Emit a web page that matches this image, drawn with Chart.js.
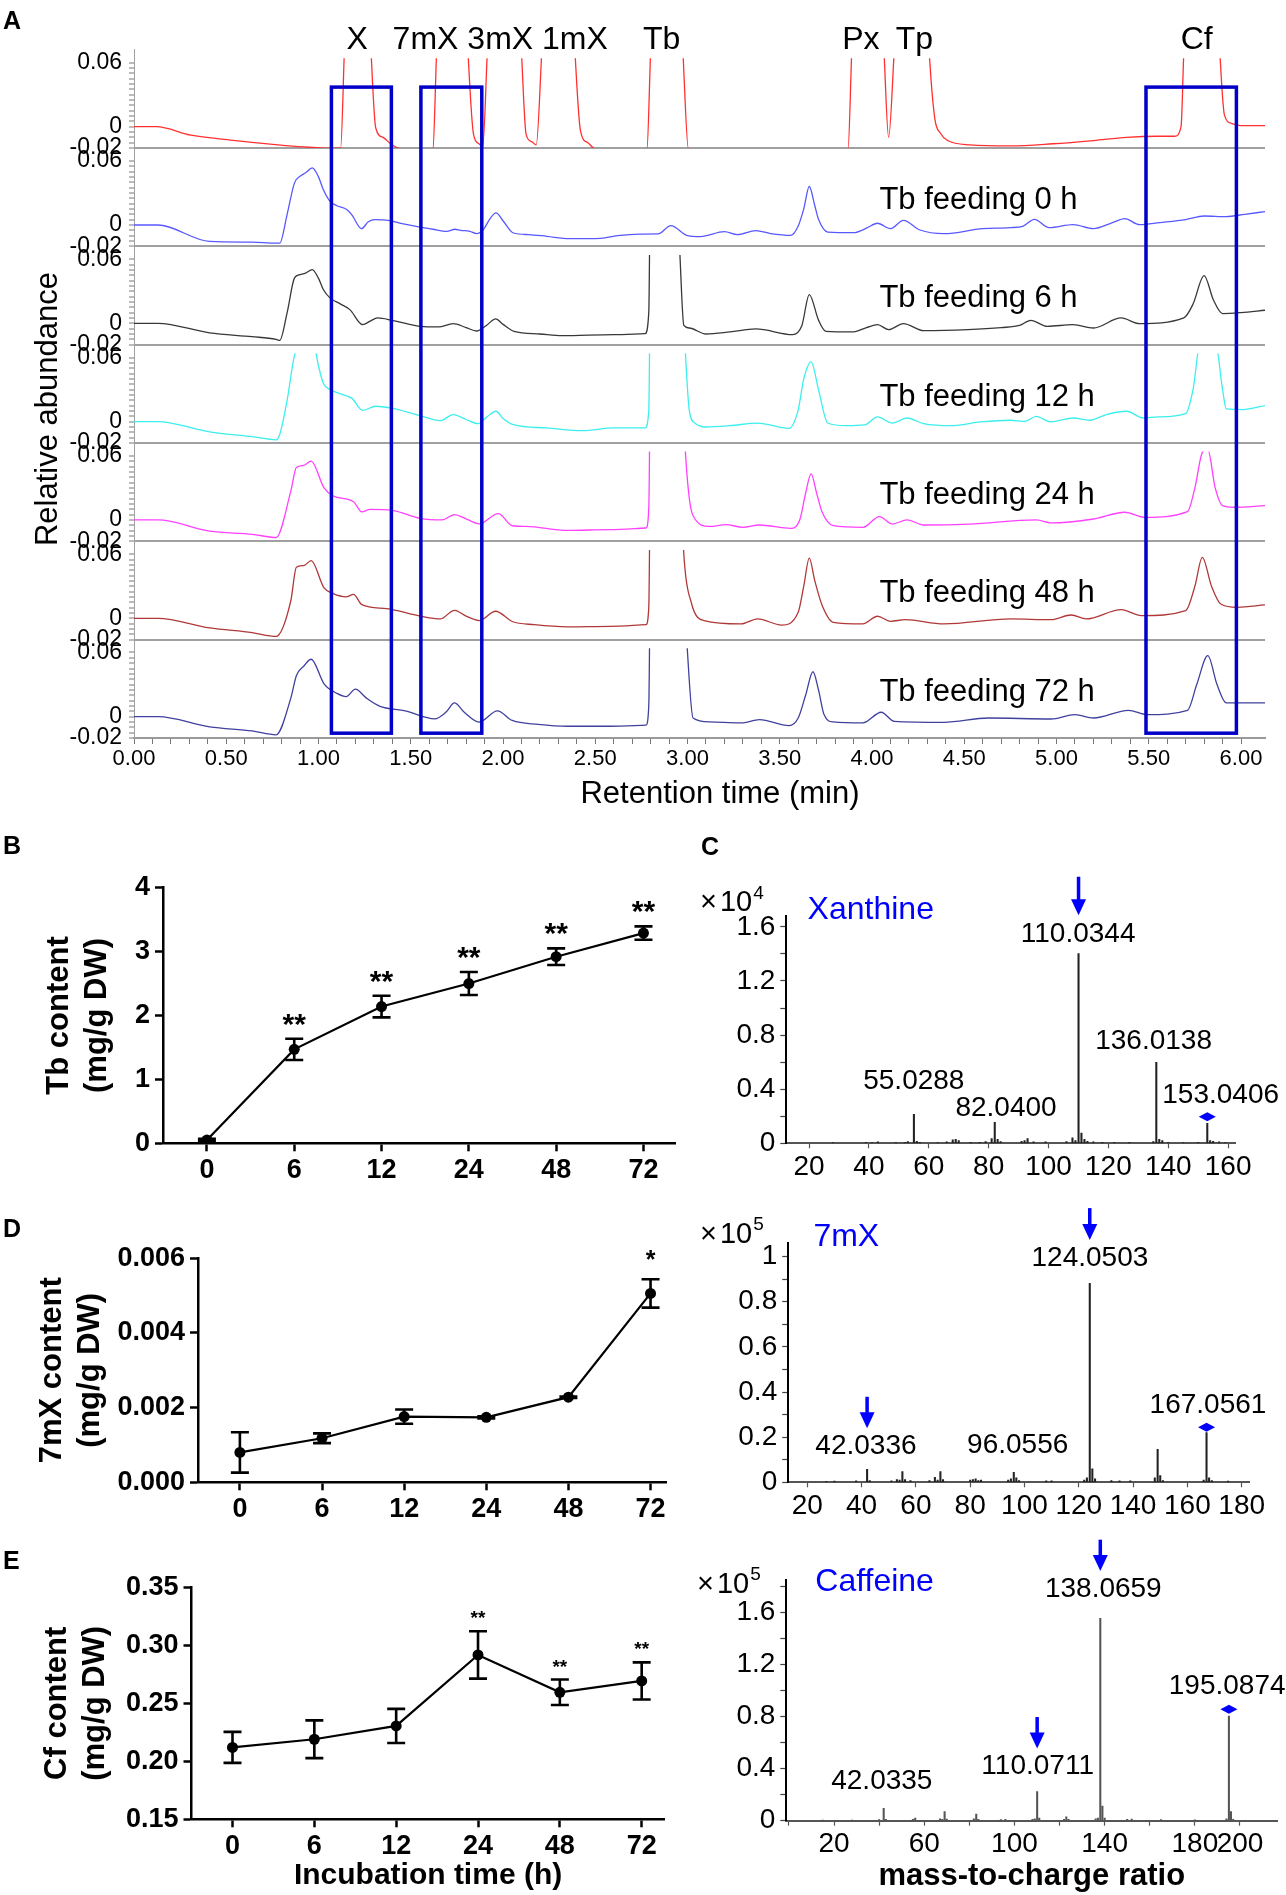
<!DOCTYPE html>
<html>
<head>
<meta charset="utf-8">
<script src="https://cdn.jsdelivr.net/npm/chart.js@4.4.1/dist/chart.umd.min.js"></script>
<style>
  body { margin: 0; background: #fff; }
  #fig { position: relative; width: 1286px; height: 1895px; background: #fff; }
  #fig canvas { position: absolute; }
</style>
</head>
<body>
<div id="fig">
  <canvas id="chromChart"></canvas>
  <canvas id="tbChart"></canvas>
  <canvas id="xanChart"></canvas>
  <canvas id="mxChart"></canvas>
  <canvas id="mxMsChart"></canvas>
  <canvas id="cfChart"></canvas>
  <canvas id="cfMsChart"></canvas>
</div>
<script>
// ---------- Panel A: chromatograms (retention time in min, relative abundance) ----------
const stdTime = [0.00, 0.12, 0.31, 0.55, 0.78, 0.92, 1.03, 1.12, 1.14, 1.21, 1.285, 1.31, 1.35, 1.39, 1.43, 1.52, 1.62, 1.64, 1.72, 1.81,
  1.84, 1.87, 1.89, 1.915, 2.01, 2.10, 2.125, 2.155, 2.18, 2.21, 2.30, 2.39, 2.42, 2.46, 2.50, 2.64, 2.78, 2.80, 2.88, 2.975,
  3.005, 3.45, 3.87, 3.89, 3.97, 4.065, 4.09, 4.12, 4.22, 4.31, 4.34, 4.37, 4.41, 4.53, 4.75, 4.98, 5.20, 5.38, 5.55, 5.64,
  5.675, 5.69, 5.79, 5.885, 5.91, 5.95, 6.00, 6.13];
const stdAbund = [0.000, 0.000, -0.008, -0.013, -0.017, -0.019, -0.020, -0.020, 0.070, 0.400, 0.070, -0.001, -0.010, -0.016, -0.020, -0.023, -0.021, 0.070, 0.400, 0.070,
  -0.007, -0.016, -0.019, 0.070, 0.400, 0.070, -0.007, -0.014, -0.017, 0.070, 0.400, 0.070, -0.004, -0.015, -0.021, -0.023, -0.021, 0.070, 0.400, 0.070,
  -0.021, -0.023, -0.021, 0.070, 0.400, 0.070, -0.010, 0.070, 0.400, 0.070, 0.008, -0.006, -0.013, -0.017, -0.018, -0.016, -0.013, -0.010, -0.009, -0.009,
  0.000, 0.070, 0.400, 0.070, 0.011, 0.003, 0.001, 0.001];

const h0Time = [0.00, 0.13, 0.41, 0.64, 0.77, 0.79, 0.83, 0.87, 0.90, 0.93, 0.966, 1.00, 1.026, 1.062, 1.10, 1.153, 1.18, 1.233, 1.27, 1.305,
  1.378, 1.46, 1.55, 1.62, 1.695, 1.74, 1.77, 1.82, 1.857, 1.893, 1.93, 1.962, 2.00, 2.056, 2.14, 2.237, 2.36, 2.53, 2.62, 2.74,
  2.84, 2.91, 3.00, 3.07, 3.20, 3.27, 3.37, 3.45, 3.56, 3.60, 3.63, 3.66, 3.69, 3.71, 3.76, 3.90, 3.97, 4.03, 4.10, 4.17,
  4.26, 4.39, 4.60, 4.75, 4.82, 4.88, 4.96, 5.09, 5.20, 5.30, 5.37, 5.45, 5.56, 5.70, 5.80, 5.92, 6.02, 6.13];
const h0Abund = [0.000, 0.000, -0.0154, -0.016, -0.017, -0.0169, 0.010, 0.0394, 0.0456, 0.0488, 0.0534, 0.045, 0.0331, 0.0222, 0.018, 0.0144, 0.0097, -0.0034, 0.003, 0.005,
  0.0044, 0.001, -0.0019, -0.004, -0.0059, -0.004, -0.005, -0.006, -0.0081, -0.0044, 0.006, 0.0113, 0.004, -0.0075, -0.009, -0.0106, -0.0128, -0.0125, -0.010, -0.0085,
  -0.0084, -0.0006, -0.010, -0.0109, -0.0063, -0.0091, -0.0053, -0.008, -0.0097, -0.001, 0.015, 0.036, 0.018, 0.0053, -0.0066, -0.0072, -0.003, 0.0016, -0.0034, 0.0044,
  -0.0047, -0.0081, -0.0034, -0.0025, -0.001, 0.0053, -0.0025, 0.0003, -0.0034, 0.002, 0.006, 0.0003, 0.0022, 0.005, 0.0084, 0.0078, 0.010, 0.0125];

const h6Time = [0.00, 0.13, 0.41, 0.64, 0.77, 0.79, 0.83, 0.87, 0.90, 0.93, 0.966, 1.00, 1.026, 1.062, 1.12, 1.17, 1.24, 1.28, 1.32, 1.40,
  1.55, 1.65, 1.73, 1.80, 1.857, 1.91, 1.96, 2.00, 2.06, 2.20, 2.32, 2.60, 2.77, 2.79, 2.81, 2.88, 2.96, 2.98, 3.01, 3.10,
  3.23, 3.37, 3.57, 3.62, 3.66, 3.71, 3.75, 3.90, 3.97, 4.03, 4.09, 4.17, 4.28, 4.52, 4.70, 4.80, 4.86, 4.95, 5.09, 5.20,
  5.35, 5.45, 5.69, 5.74, 5.80, 5.85, 5.90, 6.00, 6.13];
const h6Abund = [0.000, 0.000, -0.009, -0.0125, -0.015, -0.016, 0.010, 0.0425, 0.0456, 0.047, 0.0503, 0.042, 0.0316, 0.0238, 0.018, 0.0128, -0.0013, 0.002, 0.005, 0.0028,
  -0.0028, -0.0034, -0.0003, -0.004, -0.0072, -0.002, 0.0041, -0.001, -0.0075, -0.010, -0.0116, -0.0106, -0.0097, 0.010, 0.400, 0.400, 0.060, -0.002, -0.0044, -0.010,
  -0.0081, -0.0053, -0.0106, -0.002, 0.0269, 0.003, -0.0075, -0.008, -0.004, -0.0013, -0.0059, -0.0003, -0.0069, -0.0059, -0.004, -0.002, 0.0028, -0.0028, -0.0013, -0.0044,
  0.005, -0.0003, 0.005, 0.018, 0.0447, 0.022, 0.0091, 0.010, 0.0122];

const h12Time = [0.00, 0.13, 0.41, 0.64, 0.77, 0.79, 0.83, 0.87, 0.92, 0.97, 1.00, 1.026, 1.062, 1.12, 1.18, 1.24, 1.31, 1.39, 1.55, 1.66,
  1.73, 1.80, 1.866, 1.91, 1.962, 2.00, 2.056, 2.237, 2.43, 2.60, 2.77, 2.79, 2.81, 2.90, 2.99, 3.01, 3.04, 3.10, 3.23, 3.38,
  3.55, 3.60, 3.63, 3.67, 3.71, 3.76, 3.86, 3.96, 4.03, 4.11, 4.19, 4.28, 4.43, 4.59, 4.75, 4.83, 4.89, 4.97, 5.09, 5.18,
  5.27, 5.38, 5.47, 5.55, 5.70, 5.74, 5.78, 5.86, 5.90, 5.92, 6.01, 6.13];
const h12Abund = [0.000, 0.000, -0.0096, -0.014, -0.017, -0.012, 0.020, 0.062, 0.075, 0.075, 0.052, 0.036, 0.030, 0.026, 0.022, 0.0106, 0.0144, 0.0128, 0.0056, 0.0009,
  0.0066, 0.002, -0.0019, 0.004, 0.0097, 0.003, -0.0028, -0.0059, -0.0084, -0.0059, -0.0059, 0.010, 0.400, 0.400, 0.060, 0.010, -0.0013, -0.005, -0.0038, -0.0013,
  -0.0063, 0.011, 0.040, 0.056, 0.030, -0.0013, -0.0038, -0.0031, 0.0044, -0.0013, 0.0034, -0.0019, -0.0038, -0.0003, 0.0013, 0.0003, 0.005, -0.0003, 0.0034, 0.0013,
  0.0066, 0.0097, 0.0034, 0.0044, 0.0075, 0.030, 0.075, 0.075, 0.030, 0.0119, 0.0113, 0.015];

const h24Time = [0.00, 0.13, 0.41, 0.64, 0.77, 0.85, 0.88, 0.92, 0.96, 1.03, 1.08, 1.19, 1.235, 1.28, 1.40, 1.55, 1.67, 1.737, 1.80, 1.87,
  1.975, 2.05, 2.125, 2.35, 2.58, 2.775, 2.79, 2.81, 2.90, 2.99, 3.01, 3.03, 3.12, 3.21, 3.30, 3.39, 3.56, 3.61, 3.64, 3.67,
  3.70, 3.73, 3.79, 3.95, 4.04, 4.11, 4.19, 4.28, 4.53, 4.89, 4.97, 5.20, 5.37, 5.48, 5.71, 5.75, 5.79, 5.82, 5.86, 5.90,
  5.96, 6.13];
const h24Abund = [0.000, 0.000, -0.0104, -0.0134, -0.0164, 0.027, 0.049, 0.051, 0.055, 0.030, 0.0224, 0.017, 0.0075, 0.010, 0.009, 0.0015, 0.000, 0.005, 0.001, -0.0036,
  0.006, -0.0054, -0.006, -0.0098, -0.009, -0.0075, 0.010, 0.400, 0.400, 0.060, 0.020, 0.004, -0.006, -0.0044, -0.0069, -0.0047, -0.0078, 0.0009, 0.025, 0.0431,
  0.025, 0.0072, -0.0053, -0.0069, 0.0031, -0.0038, 0.000, -0.0047, -0.0038, 0.000, -0.0028, 0.0009, 0.0072, 0.0025, 0.0078, 0.030, 0.063, 0.066, 0.030, 0.0134,
  0.0119, 0.0134];

const h48Time = [0.00, 0.13, 0.41, 0.64, 0.77, 0.85, 0.88, 0.92, 0.96, 1.03, 1.08, 1.15, 1.19, 1.235, 1.37, 1.55, 1.66, 1.737, 1.80, 1.87,
  1.96, 2.05, 2.17, 2.35, 2.58, 2.775, 2.79, 2.81, 2.90, 2.98, 3.02, 3.09, 3.29, 3.38, 3.51, 3.60, 3.63, 3.66, 3.69, 3.73,
  3.79, 3.95, 4.03, 4.10, 4.18, 4.39, 4.75, 4.97, 5.08, 5.16, 5.35, 5.46, 5.70, 5.75, 5.79, 5.84, 5.89, 5.98, 6.13];
const h48Abund = [0.000, 0.000, -0.009, -0.0134, -0.017, 0.0164, 0.0478, 0.0493, 0.054, 0.0284, 0.023, 0.020, 0.0224, 0.0128, 0.009, 0.0021, -0.0006, 0.0075, 0.002, -0.0021,
  0.0066, -0.003, -0.006, -0.008, -0.0075, -0.006, 0.010, 0.400, 0.400, 0.060, 0.015, -0.0022, -0.0053, -0.0006, -0.0063, 0.0056, 0.030, 0.0563, 0.035, 0.0119,
  -0.0038, -0.0053, 0.0019, -0.0028, -0.0013, -0.0053, -0.0006, -0.0013, 0.0031, -0.0006, 0.0081, 0.0025, 0.0072, 0.030, 0.057, 0.030, 0.0134, 0.0103, 0.0125];

const h72Time = [0.00, 0.13, 0.41, 0.64, 0.77, 0.85, 0.88, 0.92, 0.96, 1.03, 1.10, 1.15, 1.20, 1.26, 1.33, 1.47, 1.63, 1.69, 1.737, 1.79,
  1.87, 1.97, 2.05, 2.19, 2.35, 2.58, 2.775, 2.79, 2.81, 2.90, 3.00, 3.03, 3.12, 3.29, 3.39, 3.55, 3.60, 3.64, 3.68, 3.71,
  3.74, 3.79, 3.95, 4.05, 4.12, 4.39, 4.63, 4.97, 5.10, 5.20, 5.39, 5.49, 5.71, 5.76, 5.82, 5.87, 5.92, 6.13];
const h72Abund = [0.000, 0.000, -0.0096, -0.0134, -0.017, 0.0173, 0.0382, 0.0472, 0.0537, 0.0307, 0.0218, 0.0188, 0.0257, 0.0173, 0.0099, 0.0054, -0.0021, 0.004, 0.0128, 0.004,
  -0.0051, 0.0054, -0.0036, -0.0072, -0.009, -0.009, -0.008, 0.010, 0.400, 0.400, 0.060, -0.0013, -0.005, -0.0059, -0.0028, -0.0084, -0.0013, 0.020, 0.042, 0.025,
  0.0019, -0.005, -0.0059, 0.0041, -0.0044, -0.0053, -0.0013, -0.0022, 0.0019, -0.0013, 0.0059, 0.0019, 0.0059, 0.030, 0.057, 0.030, 0.0128, 0.0128];

const traceTimes = [stdTime, h0Time, h6Time, h12Time, h24Time, h48Time, h72Time];
const traceAbund = [stdAbund, h0Abund, h6Abund, h12Abund, h24Abund, h48Abund, h72Abund];
const traceColors = ['#ff3030', '#5858ff', '#383838', '#3ceeee', '#ff40ff', '#b03838', '#40409e'];
const feedLabels = ['Tb feeding 0 h', 'Tb feeding 6 h', 'Tb feeding 12 h', 'Tb feeding 24 h', 'Tb feeding 48 h', 'Tb feeding 72 h'];
const compoundNames = ['X', '7mX', '3mX', '1mX', 'Tb', 'Px', 'Tp', 'Cf'];
const compoundTimes = [1.21, 1.58, 1.985, 2.39, 2.86, 3.94, 4.23, 5.76];
const rtLabels = ['0.00', '0.50', '1.00', '1.50', '2.00', '2.50', '3.00', '3.50', '4.00', '4.50', '5.00', '5.50', '6.00'];
const abundLabelValues = [-0.02, 0, 0.06];
const boxSpans = [[1.07, 1.395], [1.555, 1.885], [5.485, 5.975]];

// ---------- Panels B, D, E: contents over incubation time ----------
const hours = ['0', '6', '12', '24', '48', '72'];
const tbMean = [0.05, 1.47, 2.14, 2.50, 2.92, 3.29];
const tbSd = [0.02, 0.167, 0.17, 0.18, 0.13, 0.105];
const tbSig = ['', '**', '**', '**', '**', '**'];
const tbYTicks = [0, 1, 2, 3, 4];
const tbYLabels = ['0', '1', '2', '3', '4'];

const mxMean = [0.00080, 0.00118, 0.00176, 0.00174, 0.00228, 0.00506];
const mxSd = [0.00054, 0.00013, 0.00019, 0.00003, 0.00002, 0.00038];
const mxSig = ['', '', '', '', '', '*'];
const mxYTicks = [0, 0.002, 0.004, 0.006];
const mxYLabels = ['0.000', '0.002', '0.004', '0.006'];

const cfMean = [0.212, 0.219, 0.2305, 0.2917, 0.2595, 0.2693];
const cfSd = [0.0134, 0.0163, 0.0147, 0.0204, 0.011, 0.016];
const cfSig = ['', '', '', '**', '**', '**'];
const cfYTicks = [0.15, 0.20, 0.25, 0.30, 0.35];
const cfYLabels = ['0.15', '0.20', '0.25', '0.30', '0.35'];

// ---------- Mass spectra (m/z, intensity) ----------
const xanMz = [28, 39, 41, 43, 49, 52, 53, 55.03, 56, 57, 63, 66, 68, 69, 70, 74, 77, 79, 81, 82.04, 83, 84, 91, 92, 93, 95, 99, 106, 108, 109,
  110.03, 111, 112, 113, 115, 118, 122, 127, 135, 136.01, 137, 138, 140, 145, 150, 153.04, 154, 155, 157, 159];
const xanInt = [0.005, 0.008, 0.006, 0.01, 0.006, 0.008, 0.012, 0.215, 0.015, 0.008, 0.006, 0.01, 0.025, 0.03, 0.02, 0.008, 0.008, 0.012, 0.035, 0.155, 0.03, 0.012, 0.015, 0.02, 0.035, 0.01, 0.01, 0.012, 0.04, 0.02,
  1.403, 0.075, 0.03, 0.015, 0.01, 0.008, 0.008, 0.008, 0.012, 0.598, 0.03, 0.02, 0.008, 0.006, 0.008, 0.148, 0.02, 0.015, 0.01, 0.006];
const xanXTicks = [20, 40, 60, 80, 100, 120, 140, 160];
const xanYTicks = [0, 0.2, 0.4, 0.6, 0.8, 1.0, 1.2, 1.4, 1.6];
const xanYLabels = ['0', '', '0.4', '', '0.8', '', '1.2', '', '1.6'];
const xanPeakLabels = [['110.0344', 109.9, 1.546], ['55.0288', 55.0, 0.462], ['82.0400', 85.8, 0.258], ['136.0138', 135.1, 0.755], ['153.0406', 157.5, 0.357]];

const mxMz = [27, 30, 38, 42.03, 43, 51, 53, 54, 55.03, 56, 58, 65, 67, 68, 69.03, 70, 80, 81, 82, 83, 84, 94, 95, 96.06, 97, 98, 108, 110, 122, 123,
  124.05, 125, 126, 132, 135, 139, 148, 149.05, 150, 151, 166, 167.06, 168, 169, 175];
const mxInt = [0.004, 0.005, 0.006, 0.058, 0.008, 0.006, 0.012, 0.01, 0.047, 0.012, 0.008, 0.008, 0.022, 0.01, 0.047, 0.012, 0.01, 0.012, 0.015, 0.008, 0.01, 0.01, 0.015, 0.044, 0.02, 0.008, 0.006, 0.006, 0.01, 0.02,
  0.882, 0.06, 0.015, 0.008, 0.006, 0.006, 0.02, 0.146, 0.03, 0.008, 0.01, 0.22, 0.02, 0.008, 0.005];
const mxXTicks = [20, 40, 60, 80, 100, 120, 140, 160, 180];
const mxMsYTicks = [0, 0.1, 0.2, 0.3, 0.4, 0.5, 0.6, 0.7, 0.8, 0.9, 1.0];
const mxMsYLabels = ['0', '', '0.2', '', '0.4', '', '0.6', '', '0.8', '', '1'];
const mxPeakLabels = [['124.0503', 124.1, 0.993], ['42.0336', 41.6, 0.158], ['96.0556', 97.5, 0.165], ['167.0561', 167.6, 0.343]];

const cfMz = [15, 28, 40, 42.03, 43, 55, 56, 67, 68, 69.04, 70, 82, 83.06, 84, 94, 96, 108, 109, 110.07, 111, 122, 123, 124, 136, 137, 138.07, 139, 140, 150, 152,
  165, 180, 194, 195.09, 196, 197];
const cfInt = [0.005, 0.005, 0.008, 0.095, 0.01, 0.01, 0.02, 0.015, 0.01, 0.07, 0.012, 0.015, 0.05, 0.01, 0.008, 0.01, 0.01, 0.015, 0.223, 0.02, 0.01, 0.03, 0.01, 0.015, 0.02, 1.556, 0.113, 0.02, 0.01, 0.012,
  0.008, 0.006, 0.015, 0.805, 0.07, 0.01];
const cfXTicks = [0, 20, 40, 60, 80, 100, 120, 140, 160, 180, 200];
const cfXLabels = ['', '20', '', '60', '', '100', '', '140', '', '180', '200'];
const cfMsYTicks = [0, 0.2, 0.4, 0.6, 0.8, 1.0, 1.2, 1.4, 1.6, 1.8];
const cfMsYLabels = ['0', '', '0.4', '', '0.8', '', '1.2', '', '1.6', ''];
const cfPeakLabels = [['138.0659', 139.4, 1.78], ['110.0711', 110.3, 0.42], ['42.0335', 41.2, 0.30], ['195.0874', 194.3, 1.03]];

// ---------- common setup ----------
const FONT = '"Liberation Sans", Arial, Helvetica, sans-serif';
Chart.defaults.font.family = FONT;
Chart.defaults.color = '#000';
Chart.defaults.animation = false;
Chart.defaults.plugins.legend.display = false;
Chart.defaults.plugins.tooltip.enabled = false;

function place(id, box) {
  const c = document.getElementById(id);
  c.width = box.w; c.height = box.h;
  c.style.left = box.x + 'px'; c.style.top = box.y + 'px';
  c.style.width = box.w + 'px'; c.style.height = box.h + 'px';
  return c;
}

// padding and axis sizes so the plot area lands on the given page rectangle
function frame(box, plot) {
  return {
    padding: { left: 0, top: plot.t - box.y, right: box.x + box.w - plot.r, bottom: 0 },
    yW: plot.l - box.x,
    xH: box.y + box.h - plot.b
  };
}

function letter(ctx, box, txt, px, py) {
  ctx.save();
  ctx.font = 'bold 25px ' + FONT;
  ctx.textBaseline = 'middle';
  ctx.textAlign = 'left';
  ctx.fillStyle = '#000';
  ctx.fillText(txt, px - box.x, py - box.y);
  ctx.restore();
}

// ---------- Panel A ----------
const chromBox = { x: 0, y: 0, w: 1286, h: 825 };
const chromPlot = { l: 134, t: 49.7, r: 1265, b: 738 };
const fa = frame(chromBox, chromPlot);

const panelClip = {
  id: 'panelClip',
  beforeDatasetDraw(chart, args) {
    const ys = args.meta.yScale, ca = chart.chartArea, ctx = chart.ctx;
    const top = ys.getPixelForValue(0.064);
    ctx.save();
    ctx.beginPath();
    ctx.rect(ca.left, top, ca.right - ca.left, ys.bottom - top);
    ctx.clip();
  },
  afterDatasetDraw(chart) { chart.ctx.restore(); }
};

const chromDecor = {
  id: 'chromDecor',
  afterDatasetsDraw(chart) {
    const { ctx, scales } = chart;
    const x = scales.x;
    const top = scales.y0.getPixelForValue(0.037);
    const bot = scales['y' + (traceTimes.length - 1)].getPixelForValue(-0.0155);
    ctx.save();
    ctx.strokeStyle = '#0000c8';
    ctx.lineWidth = 3.5;
    boxSpans.forEach(([a, b]) => {
      const xa = x.getPixelForValue(a), xb = x.getPixelForValue(b);
      ctx.strokeRect(xa, top, xb - xa, bot - top);
    });
    ctx.restore();
  },
  afterDraw(chart) {
    const { ctx, scales } = chart;
    const x = scales.x;
    ctx.save();
    ctx.fillStyle = '#000';
    ctx.font = '32px ' + FONT;
    ctx.textAlign = 'center';
    ctx.textBaseline = 'middle';
    compoundNames.forEach((n, i) => ctx.fillText(n, x.getPixelForValue(compoundTimes[i]), 40));
    ctx.font = '31px ' + FONT;
    ctx.textAlign = 'left';
    feedLabels.forEach((t, i) => ctx.fillText(t, x.getPixelForValue(4.04), scales['y' + (i + 1)].getPixelForValue(0.023)));
    ctx.textAlign = 'center';
    ctx.fillText('Retention time (min)', 720, 794);
    ctx.translate(48, 409);
    ctx.rotate(-Math.PI / 2);
    ctx.fillText('Relative abundance', 0, 0);
    ctx.restore();
    letter(ctx, chromBox, 'A', 3, 22);
  }
};

const chromScales = {
  x: {
    type: 'linear', min: 0, max: 6.13,
    afterFit: s => { s.height = fa.xH; },
    afterBuildTicks: s => {
      const t = [];
      for (let k = 0; k <= 60; k++) t.push({ value: k / 10 });
      s.ticks = t;
    },
    ticks: {
      autoSkip: false, maxRotation: 0, padding: 2, font: { size: 22 },
      callback: v => {
        const k = Math.round(v / 0.5);
        return Math.abs(v - k * 0.5) < 1e-6 ? rtLabels[k] : '';
      }
    },
    grid: { drawOnChartArea: false, tickLength: 6, tickColor: '#777', tickWidth: 1 },
    border: { color: '#9a9a9a', width: 2 }
  }
};
traceTimes.forEach((_, i) => {
  chromScales['y' + i] = {
    type: 'linear', position: 'left', stack: 'chrom', stackWeight: 1, weight: traceTimes.length - i,
    min: -0.02, max: 0.072,
    afterFit: s => { s.width = fa.yW; },
    afterBuildTicks: s => {
      const t = [];
      for (let k = 0; k <= 16; k++) t.push({ value: Math.round((-0.02 + k * 0.005) * 1000) / 1000 });
      s.ticks = t;
    },
    ticks: {
      autoSkip: false, padding: 7, font: { size: 23 },
      callback: v => abundLabelValues.some(u => Math.abs(u - v) < 1e-9) ? (Math.abs(v) < 1e-9 ? '0' : String(+v.toFixed(2))) : ''
    },
    grid: {
      drawOnChartArea: true, lineWidth: 2, tickLength: 5, tickColor: '#777', tickWidth: 1,
      color: c => (c.tick && Math.abs(c.tick.value + 0.02) < 1e-9) ? '#a0a0a0' : 'rgba(0,0,0,0)'
    },
    border: { color: '#a0a0a0', width: 1 }
  };
});

new Chart(place('chromChart', chromBox), {
  type: 'line',
  data: {
    datasets: traceTimes.map((ts, i) => ({
      data: ts.map((t, k) => ({ x: t, y: traceAbund[i][k] })),
      yAxisID: 'y' + i,
      borderColor: traceColors[i],
      borderWidth: 1.3,
      pointRadius: 0,
      cubicInterpolationMode: 'monotone'
    }))
  },
  options: {
    responsive: false,
    layout: { padding: fa.padding, autoPadding: false },
    scales: chromScales
  },
  plugins: [panelClip, chromDecor]
});

// ---------- Panels B, D, E ----------
function timeCourse(id, box, plot, d) {
  const f = frame(box, plot);
  const bars = {
    id: 'errorBars',
    afterDatasetsDraw(chart) {
      const { ctx, scales: { x, y } } = chart;
      ctx.save();
      ctx.strokeStyle = '#000';
      ctx.fillStyle = '#000';
      ctx.lineWidth = 2.6;
      d.mean.forEach((m, i) => {
        const px = x.getPixelForValue(i);
        const hi = y.getPixelForValue(m + d.sd[i]), lo = y.getPixelForValue(m - d.sd[i]);
        ctx.beginPath();
        ctx.moveTo(px, hi); ctx.lineTo(px, lo);
        ctx.moveTo(px - 9, hi); ctx.lineTo(px + 9, hi);
        ctx.moveTo(px - 9, lo); ctx.lineTo(px + 9, lo);
        ctx.stroke();
        if (d.sig[i]) {
          ctx.font = 'bold ' + d.sigSize + 'px ' + FONT;
          ctx.textAlign = 'center';
          ctx.textBaseline = 'alphabetic';
          ctx.fillText(d.sig[i], px, hi - d.sigGap);
        }
      });
      ctx.restore();
    },
    afterDraw(chart) { letter(chart.ctx, box, d.letter[0], d.letter[1], d.letter[2]); }
  };
  new Chart(place(id, box), {
    type: 'line',
    data: {
      datasets: [{
        data: d.mean.map((m, i) => ({ x: i, y: m })),
        borderColor: '#000', borderWidth: 2.2,
        pointRadius: 5.5, pointBackgroundColor: '#000', pointBorderWidth: 0
      }]
    },
    options: {
      responsive: false,
      layout: { padding: f.padding, autoPadding: false },
      scales: {
        x: {
          type: 'linear', min: d.xMin, max: d.xMax,
          afterFit: s => { s.height = f.xH; },
          afterBuildTicks: s => { s.ticks = hours.map((_, i) => ({ value: i })); },
          ticks: { autoSkip: false, maxRotation: 0, padding: 3, font: { size: 27, weight: 'bold' }, callback: (v, i) => hours[i] },
          grid: { drawOnChartArea: false, tickLength: 8, tickWidth: 2.5, tickColor: '#000' },
          border: { color: '#000', width: 2.5 },
          title: d.xTitle
            ? { display: true, text: d.xTitle, font: { size: 30, weight: 'bold' }, padding: { top: 0, bottom: 1 } }
            : { display: false }
        },
        y: {
          type: 'linear', min: d.yMin, max: d.yMax,
          afterFit: s => { s.width = f.yW; },
          afterBuildTicks: s => { s.ticks = d.yTicks.map(v => ({ value: v })); },
          ticks: { autoSkip: false, padding: 5, font: { size: 27, weight: 'bold' }, callback: (v, i) => d.yLabels[i] },
          grid: { drawOnChartArea: false, tickLength: 8, tickWidth: 2.5, tickColor: '#000' },
          border: { color: '#000', width: 2.5 },
          title: { display: true, text: d.yTitle, font: { size: 31, weight: 'bold', lineHeight: 1.22 }, padding: { top: d.titlePad, bottom: 0 } }
        }
      }
    },
    plugins: [bars]
  });
}

timeCourse('tbChart', { x: 0, y: 830, w: 690, h: 360 }, { l: 163, t: 887.7, r: 675.6, b: 1143.3 }, {
  mean: tbMean, sd: tbSd, sig: tbSig, sigSize: 30, sigGap: 5,
  xMin: -0.503, xMax: 5.368, yMin: 0, yMax: 4, yTicks: tbYTicks, yLabels: tbYLabels,
  yTitle: ['Tb content', '(mg/g DW)'], titlePad: 40.5, letter: ['B', 3, 847.5]
});
timeCourse('mxChart', { x: 0, y: 1190, w: 690, h: 340 }, { l: 198, t: 1258.3, r: 666.8, b: 1482.3 }, {
  mean: mxMean, sd: mxSd, sig: mxSig, sigSize: 25, sigGap: 11,
  xMin: -0.51, xMax: 5.198, yMin: 0, yMax: 0.006, yTicks: mxYTicks, yLabels: mxYLabels,
  yTitle: ['7mX content', '(mg/g DW)'], titlePad: 34, letter: ['D', 3, 1230]
});
timeCourse('cfChart', { x: 0, y: 1530, w: 690, h: 365 }, { l: 191.5, t: 1587.3, r: 664.6, b: 1819.3 }, {
  mean: cfMean, sd: cfSd, sig: cfSig, sigSize: 19, sigGap: 7,
  xMin: -0.501, xMax: 5.28, yMin: 0.15, yMax: 0.35, yTicks: cfYTicks, yLabels: cfYLabels,
  yTitle: ['Cf content', '(mg/g DW)'], titlePad: 38.3, xTitle: 'Incubation time (h)', letter: ['E', 3, 1562.5]
});

// ---------- Mass spectra ----------
function drawArrow(ctx, x, yFrom, yTo) {
  const headH = 16, headW = 15;
  ctx.beginPath();
  ctx.moveTo(x, yFrom);
  ctx.lineTo(x, yTo - headH + 1);
  ctx.stroke();
  ctx.beginPath();
  ctx.moveTo(x - headW / 2, yTo - headH);
  ctx.lineTo(x + headW / 2, yTo - headH);
  ctx.lineTo(x, yTo);
  ctx.closePath();
  ctx.fill();
}

function spectrum(id, box, plot, d) {
  const f = frame(box, plot);
  const decor = {
    id: 'msDecor',
    afterDraw(chart) {
      const { ctx, scales: { x, y } } = chart;
      ctx.save();
      ctx.fillStyle = '#000';
      ctx.textBaseline = 'middle';
      // exponent
      ctx.font = '29px ' + FONT;
      ctx.textAlign = 'left';
      const ex = d.exp[1] - box.x, ey = d.exp[2] - box.y;
      ctx.fillText('\u00d7', ex, ey);
      const w1 = ctx.measureText('\u00d7').width + 3;
      ctx.fillText('10', ex + w1, ey);
      const w2 = ctx.measureText('10').width;
      ctx.font = '19px ' + FONT;
      ctx.fillText(d.exp[0], ex + w1 + w2 + 1, ey - 10);
      // compound name
      ctx.font = '32px ' + FONT;
      ctx.fillStyle = '#0000ff';
      ctx.fillText(d.name[0], d.name[1] - box.x, d.name[2] - box.y);
      // peak labels
      ctx.fillStyle = '#000';
      ctx.font = '28px ' + FONT;
      ctx.textAlign = 'center';
      d.labels.forEach(([t, mz, v]) => ctx.fillText(t, x.getPixelForValue(mz), y.getPixelForValue(v)));
      // arrows and precursor diamond
      ctx.strokeStyle = '#0000ff';
      ctx.fillStyle = '#0000ff';
      ctx.lineWidth = 3.5;
      d.arrows.forEach(([mz, a, b]) => drawArrow(ctx, x.getPixelForValue(mz), y.getPixelForValue(a), y.getPixelForValue(b)));
      const dx = x.getPixelForValue(d.diamond[0]), dy = y.getPixelForValue(d.diamond[1]);
      ctx.beginPath();
      ctx.moveTo(dx - 8.5, dy); ctx.lineTo(dx, dy - 4.5); ctx.lineTo(dx + 8.5, dy); ctx.lineTo(dx, dy + 4.5);
      ctx.closePath();
      ctx.fill();
      ctx.restore();
      if (d.letter) letter(ctx, box, d.letter[0], d.letter[1], d.letter[2]);
    }
  };
  new Chart(place(id, box), {
    type: 'bar',
    data: {
      datasets: [{
        data: d.mz.map((m, i) => ({ x: m, y: d.int[i] })),
        backgroundColor: d.color,
        barThickness: 1.4,
        borderWidth: 0
      }]
    },
    options: {
      responsive: false,
      layout: { padding: f.padding, autoPadding: false },
      scales: {
        x: {
          type: 'linear', min: d.xMin, max: d.xMax, offset: false,
          afterFit: s => { s.height = f.xH; },
          afterBuildTicks: s => { s.ticks = d.xTicks.map(v => ({ value: v })); },
          ticks: { autoSkip: false, maxRotation: 0, padding: 2, font: { size: 28 }, callback: (v, i) => d.xLabels ? d.xLabels[i] : String(v) },
          grid: { drawOnChartArea: false, offset: false, tickLength: 5, tickWidth: 1.2, tickColor: '#555' },
          border: { color: '#555', width: 2 },
          title: d.xTitle
            ? { display: true, text: d.xTitle, font: { size: 31, weight: 'bold' }, padding: { top: 0, bottom: 0 } }
            : { display: false }
        },
        y: {
          type: 'linear', min: 0, max: d.yMax,
          afterFit: s => { s.width = f.yW; },
          afterBuildTicks: s => { s.ticks = d.yTicks.map(v => ({ value: v })); },
          ticks: { autoSkip: false, padding: 5, font: { size: 28 }, callback: (v, i) => d.yLabels[i] },
          grid: { drawOnChartArea: false, tickLength: 6, tickWidth: 1.2, tickColor: '#444' },
          border: { color: '#000', width: 2 }
        }
      }
    },
    plugins: [decor]
  });
}

spectrum('xanChart', { x: 690, y: 830, w: 596, h: 360 }, { l: 786.3, t: 916, r: 1235.9, b: 1143.3 }, {
  mz: xanMz, int: xanInt, color: '#222', xMin: 12.4, xMax: 162.6, yMax: 1.68,
  xTicks: xanXTicks, yTicks: xanYTicks, yLabels: xanYLabels, labels: xanPeakLabels,
  exp: ['4', 700, 903.3], name: ['Xanthine', 807.6, 910],
  arrows: [[110.03, 1.97, 1.685]], diamond: [153.04, 0.196], letter: ['C', 701, 848.3]
});
spectrum('mxMsChart', { x: 690, y: 1190, w: 596, h: 340 }, { l: 788.2, t: 1243.3, r: 1249, b: 1482.3 }, {
  mz: mxMz, int: mxInt, color: '#222', xMin: 12.97, xMax: 182.7, yMax: 1.059,
  xTicks: mxXTicks, yTicks: mxMsYTicks, yLabels: mxMsYLabels, labels: mxPeakLabels,
  exp: ['5', 700, 1235], name: ['7mX', 813.4, 1236.7],
  arrows: [[124.05, 1.215, 1.074], [42.03, 0.379, 0.239]], diamond: [167.06, 0.244]
});
spectrum('cfMsChart', { x: 690, y: 1530, w: 596, h: 365 }, { l: 786.3, t: 1580, r: 1277.2, b: 1820.7 }, {
  mz: cfMz, int: cfInt, color: '#555', xMin: -1.15, xMax: 216.5, yMax: 1.85,
  xTicks: cfXTicks, xLabels: cfXLabels, yTicks: cfMsYTicks, yLabels: cfMsYLabels, labels: cfPeakLabels,
  exp: ['5', 697, 1585], name: ['Caffeine', 815.3, 1581.7],
  arrows: [[138.07, 2.16, 1.92], [110.07, 0.797, 0.554]], diamond: [195.09, 0.857],
  xTitle: 'mass-to-charge ratio'
});
</script>
</body>
</html>
